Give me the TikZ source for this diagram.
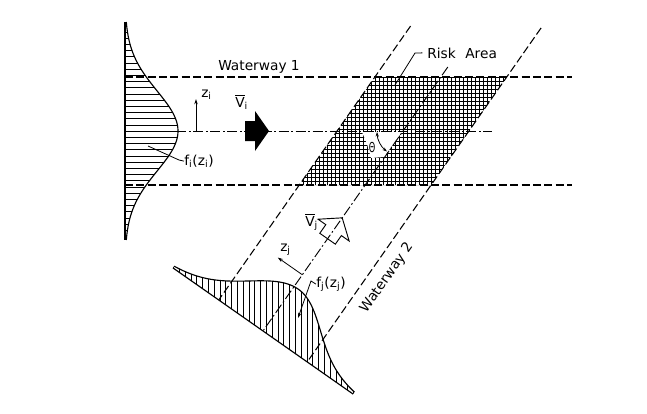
\documentclass[tikz,border=0pt]{standalone}
\usepackage{fontspec}
\setmainfont{DejaVu Sans}
\usepackage{graphicx}
\usetikzlibrary{arrows.meta}
\newcommand\lblfont{\fontsize{10.3}{12}\selectfont}
\begin{document}
\begin{tikzpicture}[x=0.75pt,y=-0.75pt,
  lbl/.style={font=\lblfont, inner sep=0pt},
  edge/.style={line width=0.85pt},
  dashline/.style={line width=0.8pt, dash pattern=on 6pt off 2.5pt},
  centline/.style={line width=0.7pt, dash pattern=on 7.5pt off 2pt on 1.3pt off 2pt},
  hatchline/.style={line width=0.45pt},
  gridline/.style={line width=0.4pt},
  thinarrow/.style={line width=0.6pt, -{Stealth[length=4pt,width=2.6pt]}},
  leader/.style={line width=0.6pt},
  declare function={hj(\a)=54.5*exp(-((\a-5)*(\a-5))/ifthenelse(\a<5,4050,3528));
                    gi(\t)=125+53*exp(-((\t-131)*(\t-131))/3200);}
]
\useasboundingbox (0,0) rectangle (647,414);

% ---------- distribution f_i ----------
\coordinate (fiT) at (125,22);
\coordinate (fiB) at (125,240);
\begin{scope}
  \clip (fiT) -- plot[domain=22:240,samples=90,smooth] ({gi(\x)},\x) -- (fiB) -- cycle;
  \foreach \k in {-18,...,18} \draw[hatchline] (125,131+6.2*\k) -- (182,131+6.2*\k);
\end{scope}
\draw[edge] (fiT) -- (fiB);
\draw[edge] plot[domain=22:240,samples=90,smooth] ({gi(\x)},\x);

% ---------- risk area ----------
\coordinate (ra1) at (374.9,77);
\coordinate (ra2) at (506.7,77);
\coordinate (ra3) at (431.1,185);
\coordinate (ra4) at (299.3,185);
\begin{scope}
  \clip (ra1) -- (ra2) -- (ra3) -- (ra4) -- cycle;
  \foreach \gx in {299,303,...,507} \draw[gridline] (\gx,77) -- (\gx,185);
  \foreach \gy in {77,81,...,185} \draw[gridline] (299,\gy) -- (507,\gy);
\end{scope}
\fill[white] (362,132) -- (402,132) -- (384,157) -- (371,158) -- (367,144) -- cycle;

% ---------- waterway 1 ----------
\coordinate (w1uL) at (125,77);  \coordinate (w1uR) at (572,77);
\coordinate (w1lL) at (125,185); \coordinate (w1lR) at (572,185);
\coordinate (w1cL) at (125,131); \coordinate (w1cR) at (492,131);
\draw[dashline] (w1uL) -- (w1uR);
\draw[dashline] (w1lL) -- (w1lR);
\draw[centline] (w1cL) -- (w1cR);
\fill (245,121) -- (255,121) -- (255,111) -- (269,131) -- (255,151) -- (255,141) -- (245,141) -- cycle;

% ---------- waterway 2 (local frame) ----------
\coordinate (O2) at (403,131);
\begin{scope}[shift={(O2)}, x={(0.6144pt,-0.4302pt)}, y={(0.4302pt,0.6144pt)}]
  \coordinate (w2Lt) at (-54,90.3);  \coordinate (w2Lb) at (-54,-244.1);
  \coordinate (w2Rt) at (54,163.6);  \coordinate (w2Rb) at (54,-244.1);
  \coordinate (w2Ct) at (0,78.1);    \coordinate (w2Cb) at (0,-244.1);
  \coordinate (bl) at (-110,-244.1); \coordinate (br) at (110,-244.1);
  \coordinate (zj0) at (0,-175.5);   \coordinate (zj1) at (-30,-175.5);
  \draw[line width=0.7pt] (-9.5,-131.5) -- (9.5,-131.5) -- (9.5,-121) -- (19,-121) -- (0,-106)
        -- (-19,-121) -- (-9.5,-121) -- cycle;
  \node[lbl, rotate=55] (ww2) at (71,-129.6) {Waterway 2};
\end{scope}

% ---------- distribution f_j ----------
\begin{scope}
  \clip (bl) -- plot[domain=-110:110,samples=90,smooth]
     ({263+0.8192*\x+0.5736*hj(\x)},{331+0.5736*\x-0.8192*hj(\x)}) -- (br) -- cycle;
  \foreach \k in {-5,...,28} \draw[hatchline] (196.7+5.8*\k,250) -- (196.7+5.8*\k,400);
\end{scope}
\draw[edge] (bl) -- (br);
\draw[edge] plot[domain=-110:110,samples=90,smooth]
     ({263+0.8192*\x+0.5736*hj(\x)},{331+0.5736*\x-0.8192*hj(\x)});

\draw[dashline] (w2Lt) -- (w2Lb);
\draw[dashline] (w2Rt) -- (w2Rb);
\draw[centline] (w2Ct) -- (w2Cb);

% ---------- labels ----------
\node[lbl, anchor=base] (ww1) at (259,70) {Waterway 1};
\node[lbl, anchor=base west] (risk) at (427,58) {Risk\hspace{0.7em}Area};
\coordinate (rk1) at (395,85);
\coordinate (rk2) at (415,53);
\draw[leader] (rk1) -- (rk2) -- ([xshift=-3.5pt]risk.west);

\node[lbl, anchor=base west] (zi) at (201,97) {z\textsubscript{i}};
\coordinate (zi0) at (196,131);
\coordinate (zi1) at (196,99);
\draw[thinarrow] (zi0) -- (zi1);

\node[lbl, anchor=base west] (vi) at (235,107) {$\overline{\mbox{V}}$\textsubscript{i}};

\node[lbl, anchor=base west] (fi) at (184,165) {f\textsubscript{i}(z\textsubscript{i})};
\coordinate (fi0) at (148,146);
\coordinate (fi1) at (179,160);
\draw[leader] (fi0) -- (fi1) -- (fi.west);

\node[lbl] (theta) at (372,147) {\scalebox{0.6}[1]{Θ}};
\draw[line width=0.6pt, {Stealth[length=3.5pt,width=2.4pt]}-{Stealth[length=3.5pt,width=2.4pt]}]
   ([shift={(178:26)}]O2) arc[start angle=178, end angle=128, radius=26];

\node[lbl, anchor=base west] (vj) at (305,226) {$\overline{\mbox{V}}$\textsubscript{j}};
\node[lbl, anchor=base west] (zj) at (280,251) {z\textsubscript{j}};
\draw[thinarrow] (zj0) -- (zj1);

\node[lbl, anchor=base west] (fj) at (316,287) {f\textsubscript{j}(z\textsubscript{j})};
\coordinate (fj1) at (311,281);
\coordinate (fj0) at (298,318);
\draw[leader, -{Stealth[length=4pt,width=2.6pt]}] (fj.west) -- (fj1) -- (fj0);
\end{tikzpicture}
\end{document}
